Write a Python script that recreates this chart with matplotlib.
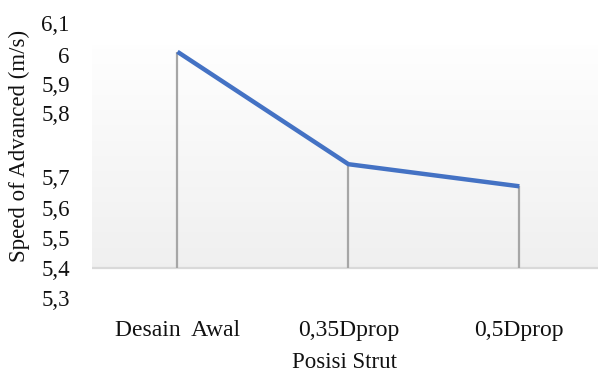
import numpy as np
import matplotlib
matplotlib.use("Agg")
import matplotlib.pyplot as plt

plt.rcParams['font.family'] = ['Liberation Serif', 'DejaVu Serif']

# data
categories = ["Desain  Awal", "0,35Dprop", "0,5Dprop"]
speed = [6.01, 5.72, 5.67]
y_ticks = [5.3, 5.4, 5.5, 5.6, 5.7, 5.8, 5.9, 6.0, 6.1]
y_labels = ["5,3", "5,4", "5,5", "5,6", "5,7", "5,8", "5,9", "6", "6,1"]

# the original axis is unevenly spaced, so map tick values to their pixel rows
tick_rows = np.array([298, 268, 238, 208, 177, 113, 84, 55, 23], dtype=float)

def fwd(v):
    return np.interp(v, y_ticks, -tick_rows)

def inv(u):
    return np.interp(u, -tick_rows, y_ticks)

W, H = 598, 373
fig = plt.figure(figsize=(W / 100, H / 100), dpi=100)
ax = fig.add_axes([92 / W, (H - 298) / H, (W - 92) / W, (298 - 23) / H])
ax.set_yscale('function', functions=(fwd, inv))
ax.set_ylim(5.3, 6.1)
ax.set_xlim(-0.5, 2.46)

x = np.arange(len(categories))

# plot-area gradient (white at top to light grey at bottom)
base = 5.4
top = 6.03
f0 = (fwd(base) - fwd(5.3)) / (fwd(6.1) - fwd(5.3))
f1 = (fwd(top) - fwd(5.3)) / (fwd(6.1) - fwd(5.3))
grad = np.linspace(0.94, 0.997, 256).reshape(-1, 1)
ax.imshow(np.dstack([grad, grad, grad]), extent=(0, 1, f0, f1), origin='lower',
          aspect='auto', transform=ax.transAxes, zorder=0, interpolation='bilinear')

ax.axhline(base, color='#d9d9d9', lw=1.6, zorder=1)
ax.vlines(x, base, speed, color='#a6a6a6', lw=1.6, zorder=2)
ax.plot(x, speed, color='#4472c4', lw=3.2, solid_capstyle='butt', zorder=3)

for s in ax.spines.values():
    s.set_visible(False)
ax.set_yticks(y_ticks)
ax.set_yticklabels(y_labels)
ax.set_xticks(x)
ax.set_xticklabels(categories)
ax.tick_params(axis='y', length=0, pad=16, labelsize=16.5, labelcolor='#111111')
ax.tick_params(axis='x', length=0, pad=16, labelsize=17, labelcolor='#111111')

ax.set_xlabel("Posisi Strut", fontsize=16.5, labelpad=8, color='#111111')
ax.set_ylabel("Speed of Advanced (m/s)", fontsize=16.5, color='#111111')
ax.yaxis.set_label_coords(-0.122, (298 - 146) / 275)

fig.savefig("out.png", dpi=100)
